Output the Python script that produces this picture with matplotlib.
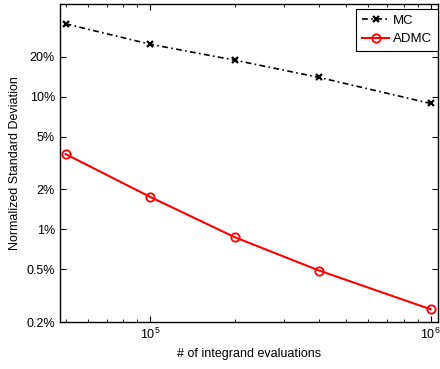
import matplotlib
matplotlib.use('Agg')
from matplotlib import pyplot as plt
from matplotlib.ticker import FixedLocator, FixedFormatter, NullLocator, LogLocator

plt.rcParams['font.family'] = ['Liberation Sans', 'DejaVu Sans']

evals = [5e4, 1e5, 2e5, 4e5, 1e6]
mc = [0.355, 0.249, 0.189, 0.140, 0.089]
admc = [0.037, 0.0176, 0.00875, 0.0049, 0.0025]
ytick_vals = [0.002, 0.005, 0.01, 0.02, 0.05, 0.1, 0.2]
ytick_labels = ['0.2%', '0.5%', '1%', '2%', '5%', '10%', '20%']

fig = plt.figure(figsize=(4.4, 3.69), dpi=100)
ax = fig.add_axes([0.136, 0.127, 0.859, 0.862])

ax.plot(evals, mc, color='k', linestyle=(0, (3.5, 2, 1, 2)), marker='x', markersize=4,
        markeredgewidth=1.6, linewidth=1.2, label='MC')
ax.plot(evals, admc, color='r', linestyle='-', marker='o', markersize=6,
        markerfacecolor='none', markeredgewidth=1.3, linewidth=1.5, label='ADMC')

ax.set_xscale('log')
ax.set_yscale('log')
ax.set_xlim(4.77e4, 1.06e6)
ax.set_ylim(0.002, 0.5)

ax.yaxis.set_major_locator(FixedLocator(ytick_vals))
ax.yaxis.set_major_formatter(FixedFormatter(ytick_labels))
ax.yaxis.set_minor_locator(NullLocator())
ax.xaxis.set_major_locator(FixedLocator([1e5, 1e6]))
ax.xaxis.set_minor_locator(LogLocator(base=10, subs=range(2, 10)))

ax.tick_params(which='both', direction='in', top=True, right=True, labelsize=9)
ax.tick_params(which='major', length=4)
ax.tick_params(which='minor', length=2)
for s in ax.spines.values():
    s.set_linewidth(1.0)

ax.set_xlabel('# of integrand evaluations', fontsize=9)
ax.set_ylabel('Normalized Standard Deviation', fontsize=9)

leg = ax.legend(loc='upper right', bbox_to_anchor=(1.0, 0.985), borderaxespad=0,
                fontsize=9.5, fancybox=False, framealpha=1, edgecolor='k',
                handlelength=2.0, handletextpad=0.3, borderpad=0.45,
                labelspacing=0.45)
leg.get_frame().set_linewidth(0.8)

fig.savefig('out.png', dpi=100)
